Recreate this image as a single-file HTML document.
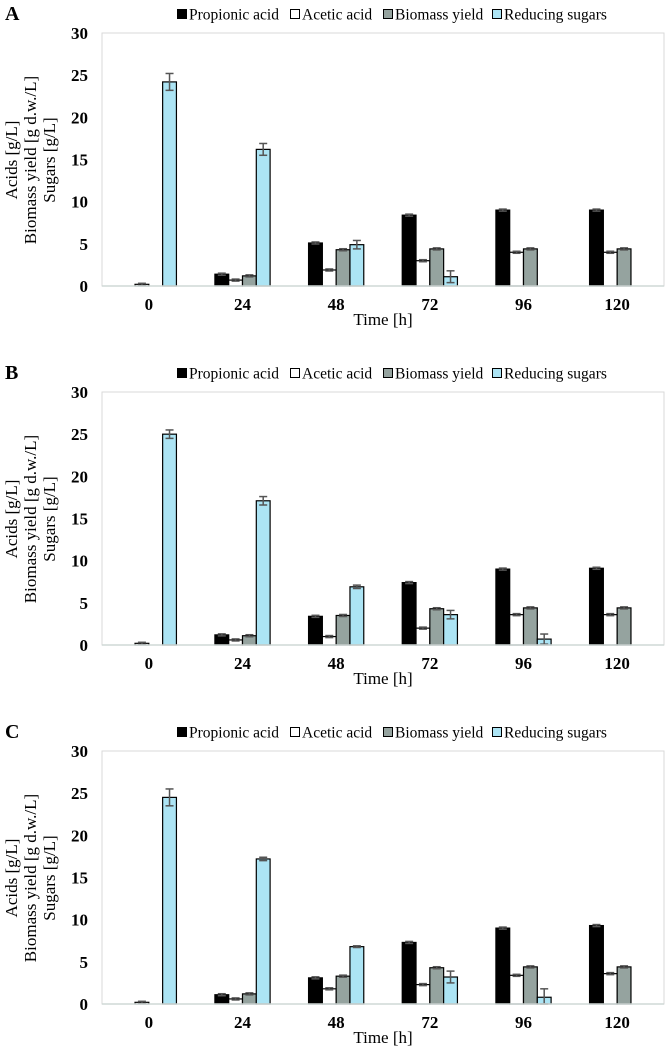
<!DOCTYPE html>
<html><head><meta charset="utf-8"><style>
body{margin:0;background:#fff}
svg{display:block;font-family:"Liberation Serif",serif}
</style></head><body>
<svg id="c" width="666" height="1063"></svg>
<script>
const categories=["0","24","48","72","96","120"];
const seriesNames=["Propionic acid","Acetic acid","Biomass yield","Reducing sugars"];
const yTicks=[0,5,10,15,20,25,30];
const panelLabels=["A","B","C"];
const aProp=[0,1.4,5.1,8.4,9.0,9.0];
const aAcet=[0.2,0.7,1.9,3.0,4.0,4.0];
const aBio=[0,1.2,4.3,4.4,4.4,4.4];
const aSug=[24.2,16.2,4.9,1.1,0,0];
const aSugErr=[1.0,0.7,0.5,0.7,0,0];
const bProp=[0,1.2,3.4,7.4,9.0,9.1];
const bAcet=[0.2,0.6,1.0,2.0,3.6,3.6];
const bBio=[0,1.1,3.5,4.3,4.4,4.4];
const bSug=[25.0,17.1,6.9,3.6,0.7,0];
const bSugErr=[0.5,0.5,0.2,0.5,0.6,0];
const cProp=[0,1.1,3.1,7.3,9.0,9.3];
const cAcet=[0.2,0.6,1.8,2.3,3.4,3.6];
const cBio=[0,1.2,3.3,4.3,4.4,4.4];
const cSug=[24.5,17.2,6.8,3.2,0.8,0];
const cSugErr=[1.0,0.2,0.1,0.7,1.0,0];
const panels=[[aProp,aAcet,aBio,aSug,aSugErr],[bProp,bAcet,bBio,bSug,bSugErr],[cProp,cAcet,cBio,cSug,cSugErr]];
const colors=["#000","#fff","#95a39f","#ace4f4"];
const svg=document.getElementById('c');
const NS="http://www.w3.org/2000/svg";
function mk(tag,attrs,parent,text){const e=document.createElementNS(NS,tag);for(const k in attrs)e.setAttribute(k,attrs[k]);if(text!==undefined)e.textContent=text;parent.appendChild(e);return e;}
const L=102,R=664,bw=13.8;
panels.forEach((p,pi)=>{
  const off=pi*359;
  const g=mk('g',{},svg);
  
  
  const top=33+off,bot=286+off;
  const y=v=>bot-(v/30)*(bot-top);
  const gw=(R-L)/categories.length;
  const xc=i=>L+gw*(i+0.5);
  const lab=mk('text',{x:5,y:20+off,'font-size':20,'font-weight':'bold'},g,panelLabels[pi]);
  
  
  const fr=mk('rect',{x:L,y:top,width:R-L,height:bot-top,fill:'none',stroke:'#d9d9d9','stroke-width':1},g);
  
  
  const lx=[177,290,383,492];
  seriesNames.forEach((n,si)=>{
    const lg=mk('g',{},g);
    
    
    mk('rect',{x:lx[si]+0.5,y:9.5+off,width:9,height:9,fill:colors[si],stroke:'#000','stroke-width':1},lg);
    mk('text',{x:lx[si]+12,y:19.5+off,'font-size':15.5},lg,n);
  });
  yTicks.forEach(t=>{
    const tt=mk('text',{x:88,y:y(t)+6,'font-size':17,'font-weight':'bold','text-anchor':'end'},g,String(t));
    
    
  });
  const yt=mk('text',{transform:`translate(0,${160+off}) rotate(-90)`,'font-size':17,'text-anchor':'middle'},g);
  
  
  ["Acids [g/L]","Biomass yield [g d.w./L]","Sugars [g/L]"].forEach((s,k)=>mk('tspan',{x:0,y:17+k*19},yt,s));
  categories.forEach((c,i)=>{
    const x0=xc(i)-2*bw;
    for(let s=0;s<4;s++){
      const v=p[s][i];
      if(v<=0)continue;
      const r=mk('rect',{x:x0+s*bw,y:y(v),width:bw,height:bot-y(v),fill:colors[s],stroke:'#000','stroke-width':1.2},g);
      
      
      const e=s===3?p[4][i]:0.12;
      const cx=x0+s*bw+bw/2;
      const eg=mk('g',{stroke:'#555','stroke-width':1.5},g);
      
      
      mk('line',{x1:cx,x2:cx,y1:y(v+e),y2:y(Math.max(0,v-e))},eg);
      mk('line',{x1:cx-4,x2:cx+4,y1:y(v+e),y2:y(v+e)},eg);
      mk('line',{x1:cx-4,x2:cx+4,y1:y(Math.max(0,v-e)),y2:y(Math.max(0,v-e))},eg);
    }
    const xl=mk('text',{x:xc(i),y:bot+24,'font-size':17,'font-weight':'bold','text-anchor':'middle'},g,c);
    
    
  });
  mk('line',{x1:L,x2:R,y1:bot,y2:bot,stroke:'#cfd8d6','stroke-width':1.5},g);
  const xt=mk('text',{x:383,y:bot+39,'font-size':17,'text-anchor':'middle'},g,"Time [h]");
  
  
});
</script>
</body></html>
